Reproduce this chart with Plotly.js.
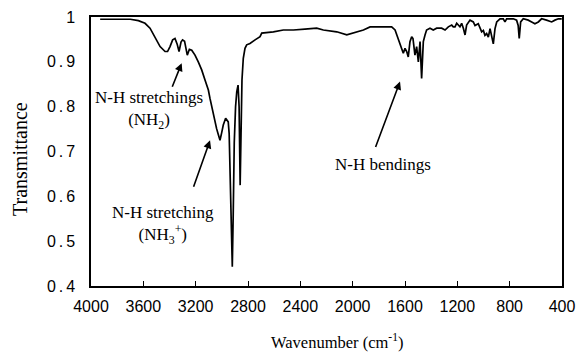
<!DOCTYPE html>
<html>
<head>
<meta charset="utf-8">
<script src="https://cdn.plot.ly/plotly-3.0.1.min.js"></script>
<style>
html,body{margin:0;padding:0;background:#fff;}
#chart{width:579px;height:356px;}
#chart .ytick text{letter-spacing:3px;}
</style>
</head>
<body>
<div id="chart"></div>
<script>
// Wavenumber (cm-1) and transmittance
const wavenumber = [3930,3800,3700,3638,3587,3549,3511,3472,3434,3415,3396,3376,3358,3342,3327,3312,3300,3285,3264,3248,3230,3205,3180,3154,3128,3103,3091,3078,3065,3052,3040,3027,3014,3001,2989,2971,2958,2951,2944,2936,2928,2920,2913,2905,2895,2886,2876,2868,2860,2853,2846,2836,2823,2810,2785,2746,2708,2695,2650,2606,2530,2453,2365,2275,2224,2170,2122,2045,1995,1918,1867,1800,1740,1702,1676,1651,1625,1613,1600,1587,1575,1562,1549,1539,1524,1511,1498,1485,1473,1460,1447,1435,1409,1384,1358,1320,1294,1269,1243,1231,1218,1205,1180,1167,1154,1141,1129,1103,1078,1065,1040,1014,1001,989,976,963,950,937,925,912,899,874,849,836,823,798,772,747,735,727,716,696,658,632,607,581,556,518,479,454,428,402];
const transmittance = [0.995,0.995,0.995,0.992,0.986,0.975,0.956,0.934,0.923,0.923,0.934,0.949,0.952,0.940,0.923,0.944,0.949,0.946,0.915,0.928,0.926,0.915,0.900,0.882,0.859,0.837,0.819,0.800,0.781,0.765,0.751,0.738,0.725,0.742,0.759,0.774,0.770,0.766,0.740,0.620,0.500,0.443,0.560,0.720,0.800,0.833,0.848,0.800,0.625,0.760,0.860,0.908,0.930,0.938,0.941,0.949,0.956,0.964,0.965,0.967,0.971,0.971,0.973,0.975,0.971,0.969,0.967,0.960,0.964,0.971,0.978,0.978,0.978,0.978,0.971,0.952,0.930,0.919,0.930,0.923,0.911,0.945,0.956,0.952,0.915,0.934,0.900,0.945,0.863,0.945,0.960,0.971,0.975,0.971,0.975,0.975,0.971,0.978,0.982,0.978,0.978,0.986,0.978,0.986,0.975,0.960,0.982,0.993,0.989,0.981,0.985,0.967,0.970,0.959,0.963,0.955,0.974,0.959,0.940,0.974,0.989,0.996,0.996,0.989,0.996,0.996,0.996,0.993,0.981,0.952,0.989,0.996,0.993,0.989,0.985,0.989,0.996,0.993,0.989,0.993,0.996,0.996];

const xTicks = [4000,3600,3200,2800,2400,2000,1600,1200,800,400];
const yTicks = [0.4,0.5,0.6,0.7,0.8,0.9,1];

// Annotation labels and the band each arrow points to
const labelTexts = ['N-H stretchings<br>(NH<sub>2</sub>)', 'N-H stretching<br>(NH<sub>3</sub><sup>+</sup>)', 'N-H bendings'];
const arrowTipX = [3307, 3090, 1638];
const arrowTipY = [0.897, 0.725, 0.856];
const xTitle = 'Wavenumber (cm<sup>-1</sup>)';
const yTitle = 'Transmittance';

const serif = 'Liberation Serif, Times New Roman, serif';
const sans = 'Liberation Sans, Arial, sans-serif';

// plot-area pixel frame used to place text labels
const PL = 91, PW = 471, PT = 17, PH = 269;
const px = v => (v - PL) / PW;
const py = v => 1 - (v - PT) / PH;

const trace = {
  x: wavenumber, y: transmittance, type: 'scatter', mode: 'lines',
  line: {color: '#000', width: 1.7}, hoverinfo: 'skip'
};

const annotations = [
  // arrows
  {x: arrowTipX[0], y: arrowTipY[0], xref: 'x', yref: 'y', text: '', showarrow: true,
   ax: -10, ay: 25, arrowhead: 2, arrowsize: 1, arrowwidth: 1.6, arrowcolor: '#000'},
  {x: arrowTipX[1], y: arrowTipY[1], xref: 'x', yref: 'y', text: '', showarrow: true,
   ax: -17, ay: 48, arrowhead: 2, arrowsize: 1, arrowwidth: 1.6, arrowcolor: '#000'},
  {x: arrowTipX[2], y: arrowTipY[2], xref: 'x', yref: 'y', text: '', showarrow: true,
   ax: -25, ay: 67, arrowhead: 2, arrowsize: 1, arrowwidth: 1.6, arrowcolor: '#000'},
  // labels
  {xref: 'paper', yref: 'paper', x: px(149), y: py(110), text: labelTexts[0],
   showarrow: false, font: {family: serif, size: 17, color: '#000'}, align: 'center',
   xanchor: 'center', yanchor: 'middle'},
  {xref: 'paper', yref: 'paper', x: px(163), y: py(225), text: labelTexts[1],
   showarrow: false, font: {family: serif, size: 17, color: '#000'}, align: 'center',
   xanchor: 'center', yanchor: 'middle'},
  {xref: 'paper', yref: 'paper', x: px(383), y: py(164), text: labelTexts[2],
   showarrow: false, font: {family: serif, size: 17, color: '#000'}, align: 'center',
   xanchor: 'center', yanchor: 'middle'},
  // axis titles
  {xref: 'paper', yref: 'paper', x: px(337), y: py(341), text: xTitle,
   showarrow: false, font: {family: serif, size: 16.5, color: '#000'},
   xanchor: 'center', yanchor: 'middle'},
  {xref: 'paper', yref: 'paper', x: px(20), y: py(159), text: yTitle, textangle: -90,
   showarrow: false, font: {family: serif, size: 20, color: '#000'},
   xanchor: 'center', yanchor: 'middle'}
];

const layout = {
  width: 579, height: 356,
  margin: {l: 91, r: 17, t: 17, b: 70},
  paper_bgcolor: '#fff', plot_bgcolor: '#fff',
  showlegend: false,
  xaxis: {
    range: [4000, 400], tickvals: xTicks, ticktext: xTicks.map(String),
    showgrid: false, zeroline: false,
    showline: true, linecolor: '#000', linewidth: 1.6, mirror: true,
    ticks: 'inside', ticklen: 5, tickcolor: '#000', tickwidth: 1,
    tickfont: {family: sans, size: 16, color: '#000'},
    ticklabelstandoff: 5
  },
  yaxis: {
    range: [0.4, 1], tickvals: yTicks, ticktext: yTicks.map(v => String(v)),
    showgrid: false, zeroline: false,
    showline: true, linecolor: '#000', linewidth: 1.6, mirror: true,
    ticks: '', tickfont: {family: sans, size: 16, color: '#000'},
    ticklabelstandoff: 8
  },
  annotations: annotations
};

Plotly.newPlot('chart', [trace], layout, {displayModeBar: false, staticPlot: true});
</script>
</body>
</html>
